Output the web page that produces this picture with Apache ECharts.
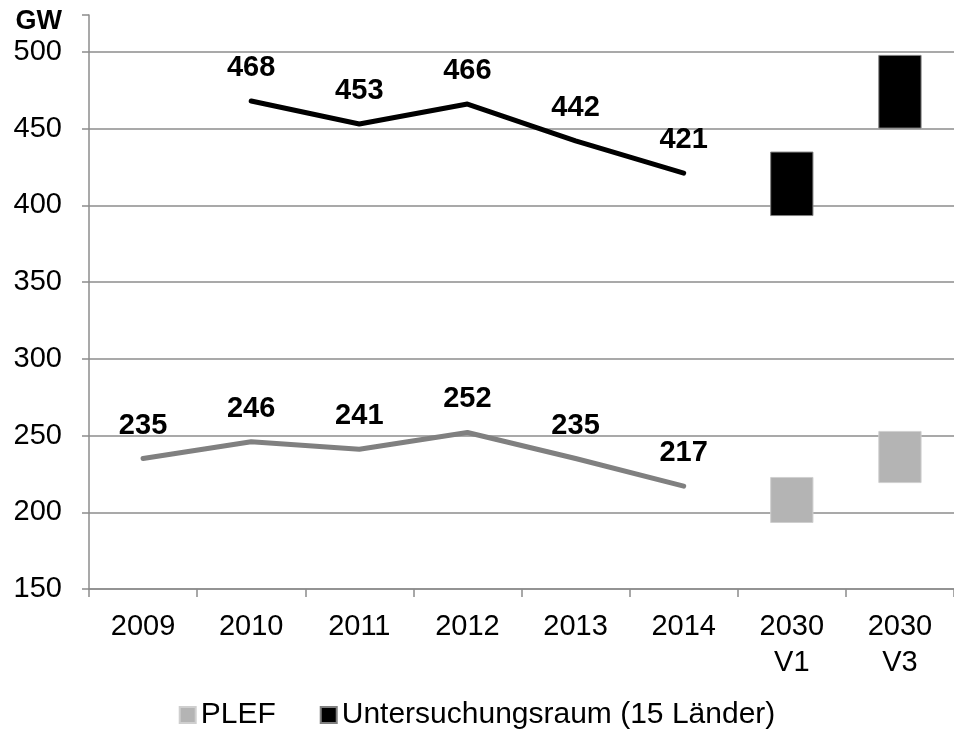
<!DOCTYPE html>
<html>
<head>
<meta charset="utf-8">
<script src="https://cdn.jsdelivr.net/npm/echarts@6/dist/echarts.min.js"></script>
<style>
  html, body { margin: 0; padding: 0; background: #fff; }
  #chart { width: 954px; height: 734px; }
</style>
</head>
<body>
<div id="chart"></div>
<script>
// Kategorien und Werte (GW)
var years = ['2009', '2010', '2011', '2012', '2013', '2014', '2030\nV1', '2030\nV3'];
var plef = [235, 246, 241, 252, 235, 217, null, null];
var unters = [null, 468, 453, 466, 442, 421, null, null];
// Spannen fuer 2030 (von - bis)
var plefLow = [null, null, null, null, null, null, 193, 219];
var plefHigh = [null, null, null, null, null, null, 223, 253];
var untersLow = [null, null, null, null, null, null, 393, 450];
var untersHigh = [null, null, null, null, null, null, 435, 498];

var yTicks = { min: 150, max: 524, step: 50 };

(function () {
  var myChart = echarts.init(document.getElementById('chart'));
  var font = "'Liberation Sans', Arial, sans-serif";

  function span(lo, hi) {
    return lo.map(function (v, i) { return v == null ? null : hi[i] - v; });
  }

  var gridColor = '#8c8c8c';
  // split line colors: last one (axis top) hidden
  var splitColors = [];
  for (var v = yTicks.min; v <= 500; v += yTicks.step) splitColors.push(gridColor);
  splitColors.push('rgba(0,0,0,0)');

  var lineLabel = {
    show: true,
    position: 'top',
    distance: 18,
    color: '#000',
    fontFamily: font,
    fontWeight: 'bold',
    fontSize: 29
  };

  var option = {
    animation: false,
    backgroundColor: '#fff',
    textStyle: { fontFamily: font },
    grid: { left: 89, right: -3, top: 15, bottom: 145, containLabel: false },
    legend: {
      top: 695,
      left: 'center',
      icon: 'rect',
      itemWidth: 16,
      itemHeight: 16,
      itemGap: 44,
      textStyle: { color: '#000', fontSize: 30, fontFamily: font },
      data: [
        { name: 'PLEF', itemStyle: { color: '#b4b4b4' } },
        { name: 'Untersuchungsraum (15 Länder)', itemStyle: { color: '#000' } }
      ]
    },
    xAxis: {
      type: 'category',
      data: years,
      axisLine: { lineStyle: { color: gridColor, width: 1.5 } },
      axisTick: { show: true, length: 8, lineStyle: { color: gridColor, width: 1.5 } },
      axisLabel: { color: '#000', fontSize: 29, lineHeight: 36, margin: 20, interval: 0, fontFamily: font }
    },
    yAxis: {
      type: 'value',
      min: yTicks.min,
      max: yTicks.max,
      interval: yTicks.step,
      axisLine: { show: true, lineStyle: { color: gridColor, width: 1.5 } },
      axisTick: { show: true, length: 7, lineStyle: { color: gridColor, width: 1.5 } },
      axisLabel: {
        color: '#000',
        fontSize: 29,
        margin: 27,
        fontFamily: font,
        formatter: function (v) {
          return v === yTicks.max ? '{g|GW}' : v;
        },
        rich: {
          g: { fontSize: 27, fontWeight: 'bold', color: '#000', fontFamily: font, padding: [14, 0, 0, 0] }
        }
      },
      splitLine: { show: true, lineStyle: { color: splitColors, width: 1.5 } }
    },
    series: [
      {
        name: 'plefBase', type: 'bar', stack: 'p', data: plefLow,
        barWidth: '40%', barGap: '-100%', silent: true,
        itemStyle: { color: 'rgba(0,0,0,0)' }
      },
      {
        name: 'PLEF', type: 'bar', stack: 'p', data: span(plefLow, plefHigh),
        barWidth: '40%', barGap: '-100%',
        itemStyle: { color: '#b4b4b4', borderColor: '#cfcfcf', borderWidth: 1 }
      },
      {
        name: 'untersBase', type: 'bar', stack: 'u', data: untersLow,
        barWidth: '40%', barGap: '-100%', silent: true,
        itemStyle: { color: 'rgba(0,0,0,0)' }
      },
      {
        name: 'Untersuchungsraum (15 Länder)', type: 'bar', stack: 'u', data: span(untersLow, untersHigh),
        barWidth: '40%', barGap: '-100%',
        itemStyle: { color: '#000', borderColor: '#7f7f7f', borderWidth: 1 }
      },
      {
        name: 'PLEF', type: 'line', data: plef,
        symbol: 'circle', symbolSize: 1, showSymbol: true,
        itemStyle: { color: '#808080' },
        lineStyle: { color: '#808080', width: 5, cap: 'round', join: 'round' },
        label: lineLabel
      },
      {
        name: 'Untersuchungsraum (15 Länder)', type: 'line', data: unters,
        symbol: 'circle', symbolSize: 1, showSymbol: true,
        itemStyle: { color: '#000' },
        lineStyle: { color: '#000', width: 5, cap: 'round', join: 'round' },
        label: lineLabel
      }
    ]
  };

  myChart.setOption(option);
  window.addEventListener('resize', function () {
    myChart.resize();
  });
})();
</script>
</body>
</html>
